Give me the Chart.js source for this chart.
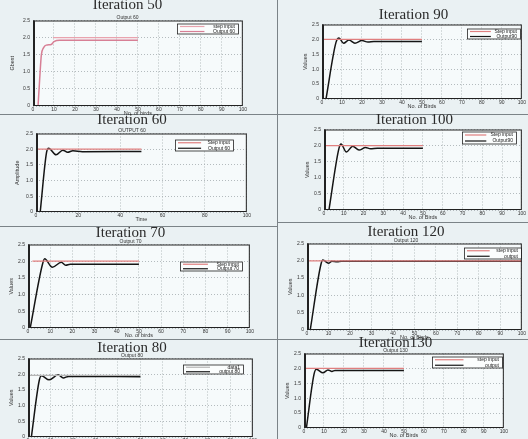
<!DOCTYPE html>
<html><head><meta charset="utf-8">
<script src="https://cdn.jsdelivr.net/npm/chart.js@4/dist/chart.umd.min.js"></script>
<style>
html,body{margin:0;padding:0;background:#eaf1f3;width:528px;height:439px;overflow:hidden;position:relative}
canvas{position:absolute}
.ln{position:absolute;background:#7b8387}
</style></head><body>
<div class="ln" style="left:0;top:114px;width:528px;height:1px"></div>
<div class="ln" style="left:0;top:226px;width:277px;height:1px"></div>
<div class="ln" style="left:277px;top:222px;width:251px;height:1px"></div>
<div class="ln" style="left:0;top:339px;width:528px;height:1px"></div>
<div class="ln" style="left:277px;top:0;width:1px;height:439px"></div>
<script>
/* step response panels, one per PSO iteration count */
const yTicks = [0, 0.5, 1, 1.5, 2, 2.5];

const step50X = [9.5, 50], step50Y = [2, 2];
const out50X = [2.4, 3, 3.5, 4, 5, 6.3, 8.7, 10, 12.7, 20, 30, 40, 50];
const out50Y = [0, 0.6, 1.1, 1.5, 1.7, 1.78, 1.8, 1.88, 1.92, 1.92, 1.92, 1.92, 1.92];

const step90X = [0, 50], step90Y = [2, 2];
const out90X = [2, 7, 8.5, 10.8, 13.5, 16.5, 20, 23, 26, 50];
const out90Y = [0, 1.9, 2.05, 1.87, 1.98, 1.87, 1.96, 1.91, 1.93, 1.93];

const step60X = [0, 50], step60Y = [2, 2];
const out60X = [2, 5, 6, 9.5, 12.7, 15, 17.5, 22, 50];
const out60Y = [0, 1.9, 2.03, 1.82, 1.97, 1.9, 1.95, 1.92, 1.93];

const step100X = [0, 50], step100Y = [2, 2];
const out100X = [2.5, 7.5, 8.6, 11.3, 14.5, 17.7, 21, 23.5, 27, 50];
const out100Y = [0, 1.9, 2.05, 1.8, 1.98, 1.86, 1.94, 1.9, 1.92, 1.92];

const step70X = [2, 50], step70Y = [2, 2];
const out70X = [1, 6.5, 7.5, 11, 15, 17, 19, 50];
const out70Y = [0, 1.9, 2.07, 1.82, 1.97, 1.88, 1.91, 1.91];

const step120X = [0, 100], step120Y = [2, 2];
const out120X = [1.5, 6.5, 7.4, 10, 11.6, 14, 16, 100];
const out120Y = [0, 1.9, 2.02, 1.93, 1.99, 1.97, 1.99, 1.99];

const step80X = [0, 50], step80Y = [1.96, 1.96];
const out80X = [1.5, 5, 6, 9.4, 13.4, 15.7, 18, 50];
const out80Y = [0, 1.8, 1.95, 1.82, 1.98, 1.88, 1.93, 1.92];

const step130X = [0, 50], step130Y = [2, 2];
const out130X = [1.2, 5, 6.2, 9.5, 12, 14, 15.5, 50];
const out130Y = [0, 1.8, 1.97, 1.85, 1.95, 1.9, 1.93, 1.93];

const pts = (xs, ys) => xs.map((x, i) => ({x, y: ys[i]}));

// l,t,r,b = plot box on the page, ty = title centre, leg = legend box relative to plot
const panels = [
  {title:'Iteration 50', sub:'Output 60', yt:'Gbest', xt:'No. of birds', step:pts(step50X, step50Y), out:pts(out50X, out50Y),
   names:['step input','Output 60'], sc:'#e9a3ae', oc:'#d77f95', l:33, t:20, r:243, b:106, ty:5, yw:26, leg:[144,3,61,10]},
  {title:'Iteration 90', sub:'', yt:'Values', xt:'No. of Birds', step:pts(step90X, step90Y), out:pts(out90X, out90Y),
   names:['Step input','Output90'], sc:'#e07f7f', oc:'#151515', l:322, t:24, r:522, b:99, ty:15, yw:22, leg:[145,4,53,10]},
  {title:'Iteration 60', sub:'OUTPUT 60', yt:'Amplitude', xt:'Time', xs:20, step:pts(step60X, step60Y), out:pts(out60X, out60Y),
   names:['Step input','Output 60'], sc:'#e07f7f', oc:'#151515', l:36, t:133, r:247, b:212, ty:120, yw:24, leg:[139,6,58,11]},
  {title:'Iteration 100', sub:'', yt:'Values', xt:'No. of Birds', step:pts(step100X, step100Y), out:pts(out100X, out100Y),
   names:['Step input','Output90'], sc:'#e07f7f', oc:'#151515', l:324, t:129, r:522, b:210, ty:120, yw:22, leg:[138,2,54,12]},
  {title:'Iteration 70', sub:'Output 70', yt:'Values', xt:'No. of birds', step:pts(step70X, step70Y), out:pts(out70X, out70Y),
   names:['Step input','Output 70'], sc:'#e07f7f', oc:'#151515', l:28, t:244, r:250, b:328, ty:233, yw:22, leg:[152,17,62,9]},
  {title:'Iteration 120', sub:'Output 120', yt:'Values', xt:'No. of Birds', step:pts(step120X, step120Y), out:pts(out120X, out120Y),
   names:['step input','output'], sc:'#e07f7f', oc:'#151515', l:307, t:243, r:522, b:330, ty:232, yw:22, leg:[157,4,57,11]},
  {title:'Iteration 80', sub:'Output 80', yt:'Values', xt:'No. of birds', step:pts(step80X, step80Y), out:pts(out80X, out80Y),
   names:['data1','output 80'], sc:'#b5b5b5', oc:'#151515', l:28, t:358, r:253, b:437, ty:348, yw:22, leg:[155,6,60,9]},
  {title:'Iteration130', sub:'Output 130', yt:'Values', xt:'No. of Birds', step:pts(step130X, step130Y), out:pts(out130X, out130Y),
   names:['step input','output'], sc:'#e07f7f', oc:'#151515', l:304, t:353, r:504, b:428, ty:343, yw:22, leg:[128,3,70,11]}
];

const framePlugin = {
  id: 'frame',
  beforeDraw(c) {
    const a = c.chartArea, x = c.ctx;
    x.save(); x.fillStyle = '#f6fafb'; x.fillRect(a.left, a.top, a.right - a.left, a.bottom - a.top); x.restore();
  },
  afterDraw(c, args, o) {
    const a = c.chartArea, x = c.ctx;
    x.save();
    x.strokeStyle = '#222'; x.lineWidth = 1;
    x.strokeRect(a.left + 0.5, a.top + 0.5, a.right - a.left - 1, a.bottom - a.top - 1);
    x.lineWidth = 2; x.beginPath(); x.moveTo(a.left + 1, a.top); x.lineTo(a.left + 1, a.bottom); x.stroke();
    // legend box
    const [lx, ly, lw, lh] = o.box;
    const bx = a.left + lx, by = a.top + ly;
    x.fillStyle = '#fbfdfd'; x.fillRect(bx, by, lw, lh);
    x.lineWidth = 0.8; x.strokeRect(bx + 0.5, by + 0.5, lw, lh);
    x.font = '5px "Liberation Sans"'; x.textAlign = 'right'; x.textBaseline = 'middle'; x.fillStyle = '#222';
    c.data.datasets.forEach((d, i) => {
      const yy = by + lh * (i + 0.5) / 2 + 0.5;
      x.strokeStyle = d.borderColor; x.lineWidth = 1.2;
      x.beginPath(); x.moveTo(bx + 3, yy); x.lineTo(bx + lw * 0.45, yy); x.stroke();
      x.fillText(d.label, bx + lw - 3, yy);
    });
    x.restore();
  }
};

const XH = 11, TLH = 13;
panels.forEach(p => {
  const cv = document.createElement('canvas');
  document.body.appendChild(cv);
  const subH = p.sub ? 6 : 0;
  const gap = p.t - (p.ty - TLH / 2) - TLH - subH;
  cv.width = p.r - p.l + p.yw + 6;
  cv.height = p.b - p.t + TLH + subH + gap + XH;
  const chart = new Chart(cv, {
    type: 'line',
    data: { datasets: [
      {label: p.names[0], data: p.step, borderColor: p.sc, borderWidth: 1.3, pointRadius: 0},
      {label: p.names[1], data: p.out, borderColor: p.oc, borderWidth: 1.5, pointRadius: 0, cubicInterpolationMode: 'monotone'}
    ]},
    options: {
      responsive: false, maintainAspectRatio: false, animation: false, devicePixelRatio: 1,
      layout: {padding: 0},
      plugins: {
        legend: {display: false}, tooltip: {enabled: false},
        title: {display: true, text: p.title, color: '#2b2b2b', font: {family: '"Liberation Serif"', size: 15, weight: 'normal', lineHeight: TLH / 15}, padding: {top: 0, bottom: gap}},
        subtitle: {display: !!p.sub, text: p.sub, color: '#333', font: {family: '"Liberation Sans"', size: 5}, padding: 0},
        frame: {box: p.leg}
      },
      scales: {
        x: {type: 'linear', min: 0, max: 100,
            ticks: {stepSize: p.xs || 10, font: {size: 5, family: '"Liberation Sans"'}, color: '#333', padding: 1, maxRotation: 0, autoSkip: false},
            grid: {color: '#a3abae', lineWidth: 0.8, drawTicks: false},
            border: {display: false, dash: [1, 2]},
            title: {display: true, text: p.xt, color: '#333', font: {size: 5.5, family: '"Liberation Sans"'}, padding: 0},
            afterFit: s => { s.height = XH; }},
        y: {min: 0, max: 2.5,
            afterBuildTicks: s => { s.ticks = yTicks.map(v => ({value: v})); },
            ticks: {font: {size: 5, family: '"Liberation Sans"'}, color: '#333', padding: 3},
            grid: {color: '#a3abae', lineWidth: 0.8, drawTicks: false},
            border: {display: false, dash: [1, 2]},
            title: {display: true, text: p.yt, color: '#333', font: {size: 5.5, family: '"Liberation Sans"'}, padding: 2},
            afterFit: s => { s.width = p.yw; }}
      }
    },
    plugins: [framePlugin]
  });
  // nudge canvas so the plot box lands on the reference position
  for (let k = 0; k < 2; k++) {
    const a = chart.chartArea;
    const w = cv.width + (p.r - p.l) - Math.round(a.right - a.left);
    const h = cv.height + (p.b - p.t) - Math.round(a.bottom - a.top);
    if (w !== cv.width || h !== cv.height) chart.resize(w, h);
  }
  const a = chart.chartArea;
  cv.style.left = (p.l - a.left) + 'px';
  cv.style.top = (p.t - a.top) + 'px';
});
</script>
</body></html>
